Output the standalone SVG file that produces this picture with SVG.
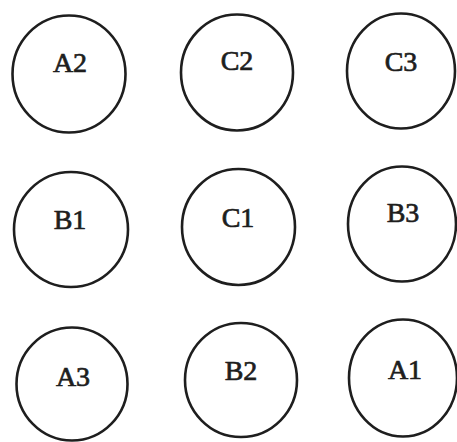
<svg xmlns="http://www.w3.org/2000/svg" width="457" height="442" viewBox="0 0 457 442">
<style>
  .n { fill: #fff; stroke: #1e1e1e; stroke-width: 2.6; }
  .t { font-family: "Liberation Serif", "Times New Roman", serif; font-size: 28px; fill: #1e1e1e; stroke: #1e1e1e; stroke-width: 0.7; text-anchor: middle; }
</style>
<rect width="457" height="442" fill="#fff"/>
<g id="connectors"></g>
<g id="A2"><ellipse class="n" cx="69" cy="74" rx="56.5" ry="58.5"/><text class="t" x="70" y="72">A2</text></g>
<g id="C2"><ellipse class="n" cx="237" cy="72.5" rx="56" ry="58"/><text class="t" x="237" y="70">C2</text></g>
<g id="C3"><ellipse class="n" cx="401" cy="71" rx="54" ry="57.5"/><text class="t" x="401" y="71">C3</text></g>
<g id="B1"><ellipse class="n" cx="71" cy="229.5" rx="57" ry="57.5"/><text class="t" x="70" y="229">B1</text></g>
<g id="C1"><ellipse class="n" cx="238.5" cy="227" rx="56.5" ry="58"/><text class="t" x="238" y="227">C1</text></g>
<g id="B3"><ellipse class="n" cx="402" cy="224" rx="54" ry="57.5"/><text class="t" x="403" y="222">B3</text></g>
<g id="A3"><ellipse class="n" cx="72" cy="384" rx="55.5" ry="56.5"/><text class="t" x="73" y="386">A3</text></g>
<g id="B2"><ellipse class="n" cx="241" cy="380" rx="56" ry="57"/><text class="t" x="241" y="380">B2</text></g>
<g id="A1"><ellipse class="n" cx="403" cy="378" rx="54" ry="58.5"/><text class="t" x="405" y="379">A1</text></g>
</svg>
